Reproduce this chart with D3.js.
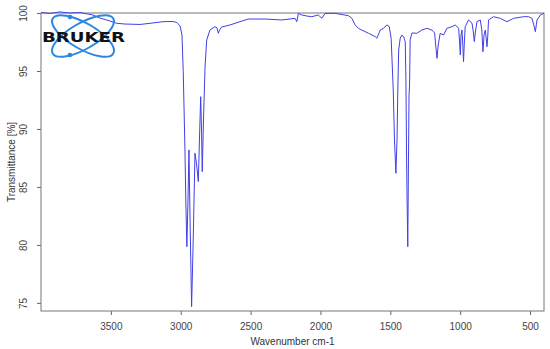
<!DOCTYPE html>
<html>
  <head>
    <meta charset="utf-8">
    <title>IR spectrum</title>
    <script src="https://d3js.org/d3.v7.min.js"></script>
    <style>
      body { margin: 0; background: #fff; }
      text { font-family: "Liberation Sans", Arial, sans-serif; }
    </style>
  </head>
  <body>
    <div id="chart"></div>
    <script>
    // spectrum: wavenumber (cm-1) and transmittance (%)
    const wavenumber = [4000, 3937, 3865, 3794, 3722, 3665, 3629, 3579, 3507, 3457, 3400, 3342, 3292, 3220, 3127, 3056, 3027, 3005,
      2991, 2982, 2970, 2963, 2956, 2948, 2941, 2932, 2922, 2909, 2898, 2886, 2874, 2866, 2857, 2851, 2846, 2837, 2826, 2814,
      2791, 2755, 2740, 2731, 2722, 2707, 2647, 2576, 2516, 2397, 2277, 2182, 2169, 2158, 2134, 2098, 2062, 2015, 1990, 1967,
      1895, 1800, 1775, 1752, 1728, 1704, 1656, 1608, 1596, 1572, 1549, 1524, 1508, 1494, 1479, 1470, 1460, 1452, 1446, 1440,
      1429, 1417, 1404, 1393, 1388, 1384, 1380, 1375, 1370, 1366, 1362, 1358, 1345, 1310, 1274, 1238, 1202, 1183, 1175, 1166,
      1157, 1143, 1119, 1095, 1059, 1035, 1011, 1005, 999, 994, 987, 981, 976, 971, 964, 940, 915, 906, 899, 891, 880, 856,
      845, 837, 829, 820, 814, 808, 802, 797, 761, 713, 665, 618, 546, 510, 486, 473, 462, 455, 450, 426, 412, 400];
    const transmittance = [100.04, 99.96, 100.09, 100.0, 100.04, 99.91, 99.83, 99.57, 99.31, 99.11, 99.05, 99.03, 99.01, 99.11, 99.25, 99.27, 99.18, 98.88,
      98.10, 94.94, 88.36, 83.45, 79.85, 83.88, 88.19, 81.29, 74.68, 81.29, 87.91, 86.9, 85.46, 89.05, 92.78, 89.9, 86.32, 90.78, 95.37, 97.67,
      98.53, 98.82, 98.71, 98.25, 98.53, 98.79, 98.97, 99.25, 99.48, 99.48, 99.40, 99.54, 99.25, 99.97, 99.83, 99.74, 99.68, 99.83, 99.54, 99.97,
      99.97, 99.77, 99.54, 98.97, 98.68, 98.53, 98.25, 97.96, 97.82, 98.53, 98.68, 98.97, 98.84, 97.82, 93.36, 89.05, 86.18, 89.05, 93.53, 96.81,
      97.84, 98.10, 97.93, 97.53, 93.97, 88.19, 83.88, 79.85, 87.33, 92.93, 93.79, 97.67, 98.28, 98.25, 98.53, 98.68, 98.53, 98.28, 97.24, 96.09,
      97.24, 98.25, 98.10, 98.68, 98.82, 98.97, 98.68, 97.67, 96.38, 98.10, 98.53, 97.24, 95.80, 97.24, 98.82, 99.40, 99.11, 98.36, 97.53, 98.36, 99.25, 99.40,
      98.53, 96.66, 98.10, 98.53, 97.84, 97.09, 98.10, 99.40, 99.68, 99.54, 99.25, 99.54, 99.68, 99.68, 99.54, 98.97, 98.39, 98.97, 99.40, 99.83, 99.91, 99.97];
    const xTicks = [3500, 3000, 2500, 2000, 1500, 1000, 500];
    const yTicks = [75, 80, 85, 90, 95, 100];

    const W = 550, H = 349;
    const margin = {top: 13, right: 6, bottom: 38, left: 41};
    const width = W - margin.left - margin.right,
          height = H - margin.top - margin.bottom;

    const svg = d3.select("#chart").append("svg")
      .attr("width", W).attr("height", H);
    const g = svg.append("g")
      .attr("transform", "translate(" + margin.left + "," + margin.top + ")");

    const x = d3.scaleLinear().domain([4000, 400]).range([0, width]);
    const y = d3.scaleLinear().domain([74.3, 100]).range([height, 0]);

    // axes
    const xAxis = g.append("g")
      .attr("transform", "translate(0," + height + ")")
      .call(d3.axisBottom(x).tickValues(xTicks).tickFormat(d3.format("d")).tickSize(4).tickSizeOuter(0));
    xAxis.selectAll("text").attr("y", 12).attr("fill", "#444").style("font-size", "10px");

    const yAxis = g.append("g")
      .call(d3.axisLeft(y).tickValues(yTicks).tickFormat(d3.format("d")).tickSize(4).tickSizeOuter(0));
    yAxis.selectAll("text")
      .attr("x", 0).attr("dy", 0)
      .attr("text-anchor", "middle")
      .attr("transform", "translate(-14,0) rotate(-90)")
      .attr("fill", "#444").style("font-size", "10px");

    g.selectAll(".domain").remove();
    g.selectAll(".tick line").attr("stroke", "#666");

    // frame
    g.append("rect")
      .attr("width", width).attr("height", height)
      .attr("fill", "none").attr("stroke", "#777").attr("stroke-width", 1);

    // axis titles
    svg.append("text")
      .attr("x", margin.left + width / 2).attr("y", 345)
      .attr("text-anchor", "middle")
      .attr("fill", "#333").style("font-size", "10px")
      .text("Wavenumber cm-1");
    svg.append("text")
      .attr("transform", "translate(15," + (margin.top + height / 2) + ") rotate(-90)")
      .attr("text-anchor", "middle")
      .attr("fill", "#333").style("font-size", "10px")
      .text("Transmittance [%]");

    // spectrum
    const pts = wavenumber.map((w, i) => [w, transmittance[i]]);
    const line = d3.line().x(d => x(d[0])).y(d => y(d[1]));
    g.append("path")
      .datum(pts)
      .attr("d", line)
      .attr("fill", "none")
      .attr("stroke", "#4040e4")
      .attr("stroke-width", 1);

    // bruker logo
    const logo = svg.append("g").attr("transform", "translate(83,36)");
    [-30, 30].forEach(a => {
      logo.append("ellipse")
        .attr("rx", 35).attr("ry", 13)
        .attr("transform", "rotate(" + a + ")")
        .attr("fill", "none").attr("stroke", "#2a86e0").attr("stroke-width", 2);
    });
    logo.append("circle").attr("cx", -13).attr("cy", -19).attr("r", 2.3).attr("fill", "#2a86e0");
    logo.append("circle").attr("cx", -13).attr("cy", 19).attr("r", 2.3).attr("fill", "#2a86e0");
    logo.append("text")
      .attr("x", -41).attr("y", 5.5)
      .attr("textLength", 83).attr("lengthAdjust", "spacingAndGlyphs")
      .attr("fill", "#111")
      .style("font-size", "14px").style("font-weight", "900")
      .style("font-family", "'DejaVu Sans', sans-serif")
      .text("BRUKER");
    </script>
  </body>
</html>
